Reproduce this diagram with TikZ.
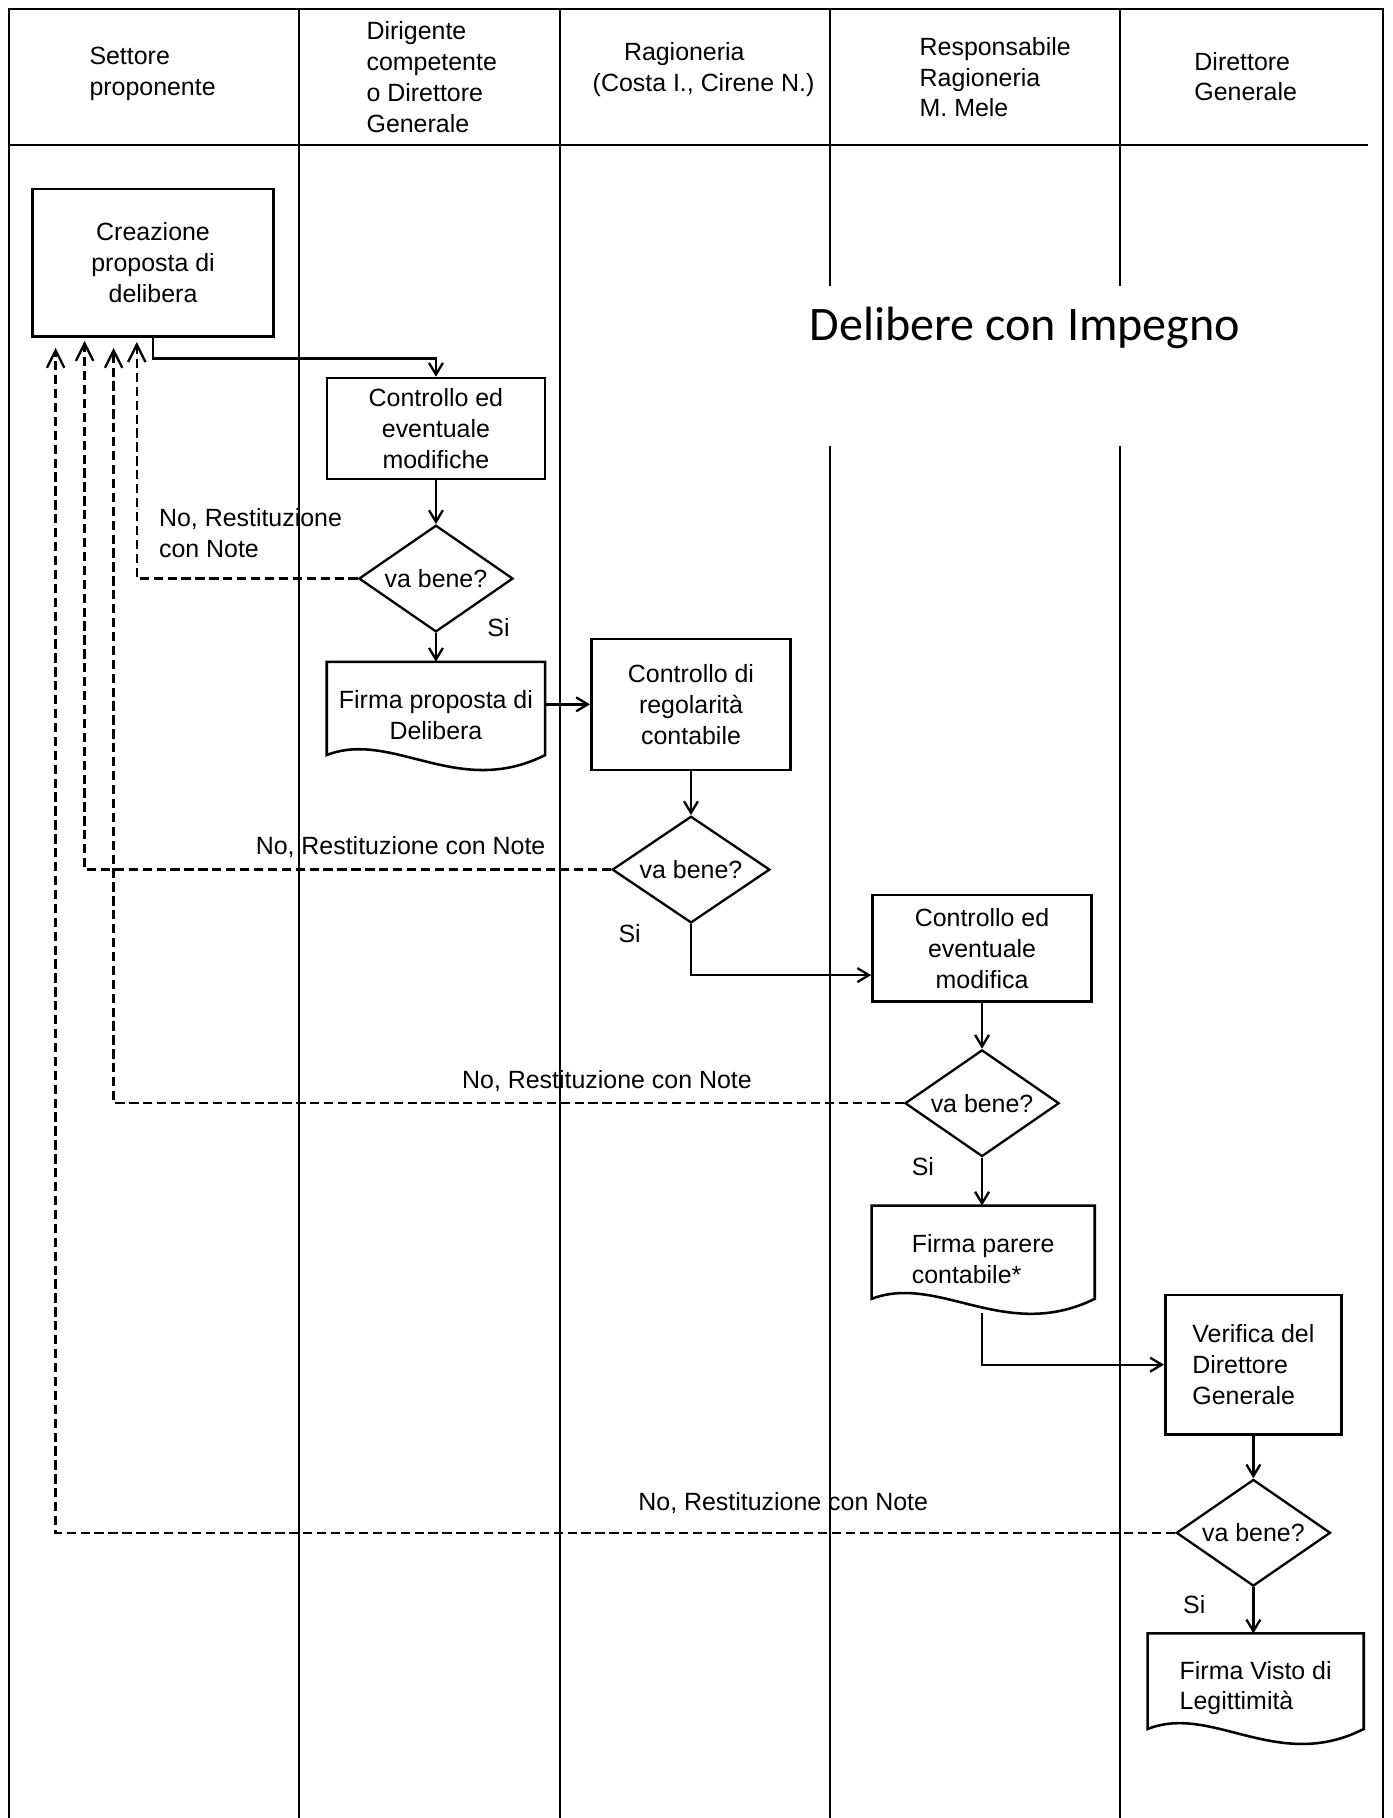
\documentclass[tikz,border=0pt]{standalone}
\usepackage{fontspec}
\setmainfont{Liberation Sans}
\newfontfamily\titlefont{Carlito}
\usetikzlibrary{shapes.geometric,arrows.meta,calc}

\newcommand\txtfont{\fontsize{21.5}{26.5}\selectfont}

\tikzset{
  lane/.style={line width=1.8pt},
  box/.style={draw, line width=2.2pt, rectangle, inner sep=0pt, align=center, font=\txtfont},
  docnode/.style={inner sep=0pt, align=center, font=\txtfont},
  dec/.style={draw, diamond, line width=2pt, inner sep=0pt, aspect=1.45,
              minimum width=133pt, minimum height=92pt, font=\txtfont},
  flow/.style={line width=2pt, -{Straight Barb[length=10pt,width=12pt]}},
  ret/.style={line width=2pt, dash pattern=on 8pt off 4pt,
              -{Straight Barb[length=15pt,width=15pt]}},
  lbl/.style={font=\txtfont, inner sep=0pt},
  hdr/.style={font=\txtfont, inner sep=0pt, align=left, anchor=west},
}

\newcommand\docpath[1]{%
  \draw[line width=2.2pt] (#1.north west) -- (#1.north east) -- ($(#1.south east)+(0,-12)$)
    .. controls ($(#1.south west)!0.6!(#1.south east)+(0,26)$) and ($(#1.south west)!0.3!(#1.south east)+(0,-34)$)
    .. ($(#1.south west)+(0,-12)$) -- cycle;}

\begin{document}
\begin{tikzpicture}[x=1pt,y=-1pt]
\useasboundingbox (0,0) rectangle (1201,1568);

% swimlane frame
\draw[lane] (8,1568) -- (8,8) -- (1193,8) -- (1193,1568);
\draw[lane] (8,125) -- (1180,125);
\draw[lane] (258,8) -- (258,1568);
\draw[lane] (483,8) -- (483,1568);
\draw[lane] (716,8) -- (716,247);
\draw[lane] (716,385) -- (716,1568);
\draw[lane] (966,8) -- (966,247);
\draw[lane] (966,385) -- (966,1568);

% headers
\node[hdr] (h1) at (77,63.5) {Settore\\proponente};
\node[hdr] (h2) at (316,66.5) {Dirigente\\competente\\o Direttore\\Generale};
\node[hdr] (h3) at (511,60) {\hspace*{27pt}Ragioneria\\(Costa I., Cirene N.)};
\node[hdr] (h4) at (793,66.5) {Responsabile\\Ragioneria\\M. Mele};
\node[hdr] (h5) at (1030,66) {Direttore\\Generale};

% title
\node[inner sep=0pt, font=\titlefont\fontsize{41.5}{48}\selectfont] (title) at (884,283) {Delibere con Impegno};

% process nodes
\node[box, minimum width=208pt, minimum height=127pt] (crea) at (132,226.5) {Creazione\\proposta di\\delibera};
\node[box, minimum width=188pt, minimum height=87pt] (c1) at (376,369.5) {Controllo ed\\eventuale\\modifiche};
\node[dec] (d1) at (376,499) {va bene?};
\node[docnode, minimum width=188pt, minimum height=92pt] (fp) at (376,617) {Firma proposta di\\Delibera};
\docpath{fp}
\node[box, minimum width=172pt, minimum height=113pt] (ck) at (596,607.5) {Controllo di\\regolarità\\contabile};
\node[dec, minimum width=136pt] (d2) at (596,750) {va bene?};
\node[box, minimum width=189pt, minimum height=92pt] (c2) at (847,818) {Controllo ed\\eventuale\\modifica};
\node[dec] (d3) at (847,951.5) {va bene?};
\node[docnode, align=left, minimum width=192pt, minimum height=92pt] (fpc) at (848,1086) {Firma parere\\contabile*};
\docpath{fpc}
\node[box, align=left, minimum width=152pt, minimum height=120pt] (ver) at (1081,1177) {Verifica del\\Direttore\\Generale};
\node[dec] (d4) at (1081,1322) {va bene?};
\node[docnode, align=left, minimum width=186pt, minimum height=94pt] (fv) at (1083,1456) {Firma Visto di\\Legittimità};
\docpath{fv}

% return targets
\coordinate (r1) at (118,295);
\coordinate (r2) at (73,294);
\coordinate (r3) at (98,300);
\coordinate (r4) at (48,300);

% flow arrows
\draw[flow] (crea.south) -- ++(0,18) -| (c1.north);
\draw[flow] (c1.south) -- (d1.north);
\draw[flow] (d1.south) -- (fp.north);
\draw[flow] (fp.east |- ck.west) -- (ck.west);
\draw[flow] (ck.south) -- (d2.north);
\draw[flow] (d2.south) |- ([yshift=-23pt]c2.west);
\draw[flow] (c2.south) -- (d3.north);
\draw[flow] (d3.south) -- (d3.south |- fpc.north);
\draw[flow] (d3.south |- fpc.south) |- (ver.west);
\draw[flow] (ver.south) -- (d4.north);
\draw[flow] (d4.south) -- (d4.south |- fv.north);

% return arrows
\draw[ret] (d1.west) -| (r1);
\draw[ret] (d2.west) -| (r2);
\draw[ret] (d3.west) -| (r3);
\draw[ret] (d4.west) -| (r4);

% labels
\node[lbl, align=left, anchor=west] (n1) at (137,460) {No, Restituzione\\con Note};
\node[lbl] (n2) at (345.5,731) {No, Restituzione con Note};
\node[lbl] (n3) at (523.5,932) {No, Restituzione con Note};
\node[lbl] (n4) at (675.5,1296) {No, Restituzione con Note};
\node[lbl] (s1) at (430,541) {Si};
\node[lbl] (s2) at (543,805) {Si};
\node[lbl] (s3) at (796,1006) {Si};
\node[lbl] (s4) at (1030,1384) {Si};
\end{tikzpicture}
\end{document}
